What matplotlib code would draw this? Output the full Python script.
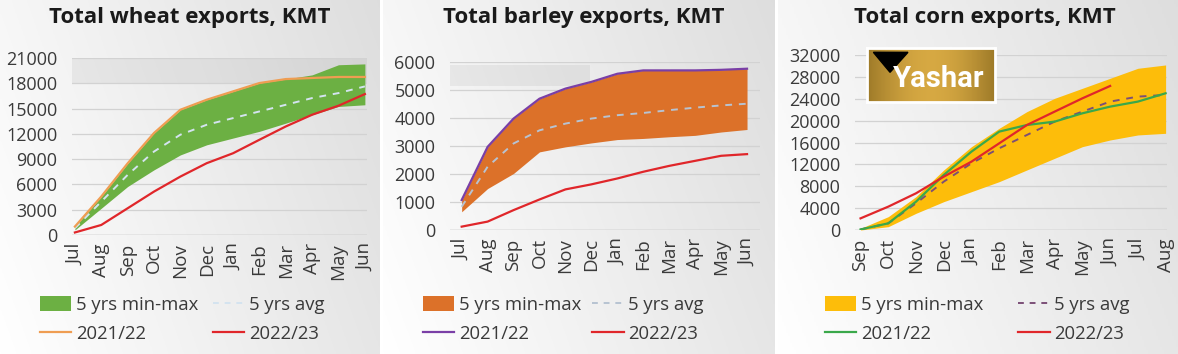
import numpy as np
import matplotlib
matplotlib.use("Agg")
import matplotlib.pyplot as plt
import matplotlib.patches as mpatches
from matplotlib.lines import Line2D

plt.rcParams['font.family'] = ['Open Sans', 'DejaVu Sans']

# ---- data (KMT, cumulative) ----
wheat_months = ["Jul", "Aug", "Sep", "Oct", "Nov", "Dec", "Jan", "Feb", "Mar", "Apr", "May", "Jun"]
wheat_min = [600, 3170, 5750, 7730, 9500, 10700, 11500, 12300, 13270, 14270, 15250, 15450]
wheat_max = [1000, 4560, 8500, 12100, 14860, 16050, 17040, 18030, 18500, 19000, 20200, 20300]
wheat_avg = [800, 3960, 7130, 9900, 11900, 13080, 13870, 14660, 15450, 16250, 16840, 17630]
wheat_2122 = [1000, 4560, 8500, 12100, 14860, 16050, 17040, 18030, 18500, 18630, 18750, 18750]
wheat_2223 = [300, 1190, 3170, 5150, 6930, 8520, 9700, 11300, 12880, 14270, 15340, 16720]
wheat_yticks = [0, 3000, 6000, 9000, 12000, 15000, 18000, 21000]

barley_months = ["Jul", "Aug", "Sep", "Oct", "Nov", "Dec", "Jan", "Feb", "Mar", "Apr", "May", "Jun"]
barley_min = [650, 1480, 2020, 2790, 2970, 3110, 3230, 3270, 3330, 3380, 3500, 3590]
barley_max = [1070, 2970, 3980, 4690, 5050, 5290, 5580, 5700, 5700, 5700, 5720, 5760]
barley_avg = [830, 2260, 3090, 3560, 3800, 3980, 4100, 4180, 4280, 4370, 4450, 4510]
barley_2122 = [1070, 2970, 3980, 4690, 5050, 5290, 5580, 5700, 5700, 5700, 5720, 5760]
barley_2223 = [120, 300, 710, 1090, 1450, 1630, 1840, 2080, 2290, 2470, 2650, 2710]
barley_yticks = [0, 1000, 2000, 3000, 4000, 5000, 6000]

corn_months = ["Sep", "Oct", "Nov", "Dec", "Jan", "Feb", "Mar", "Apr", "May", "Jun", "Jul", "Aug"]
corn_min = [0, 610, 3050, 5180, 7010, 8840, 10980, 13110, 15240, 16460, 17380, 17680]
corn_max = [300, 2440, 6100, 10980, 15240, 18600, 21650, 24080, 25910, 27740, 29570, 30180]
corn_avg = [100, 1220, 4880, 8840, 12200, 14940, 17380, 19820, 21650, 23480, 24390, 24700]
corn_2122 = [100, 1220, 5180, 10060, 14330, 17990, 19200, 19820, 21340, 22560, 23480, 25000]
corn_2223 = [2130, 4270, 6710, 9750, 12500, 15850, 19200, 21650, 24080, 26340]
corn_yticks = [0, 4000, 8000, 12000, 16000, 20000, 24000, 28000, 32000]

W, H = 1178, 354
fig = plt.figure(figsize=(W / 100, H / 100), dpi=100)
fig.patch.set_facecolor("white")


def fx(px):
    return px / W


def fy(py):
    return 1 - py / H


def panel_background(x0, x1):
    bg = fig.add_axes([fx(x0), 0, fx(x1 - x0), 1], zorder=-10)
    gx = np.linspace(0, 1, 200)
    gy = np.linspace(0, 1, 100)
    GX, GY = np.meshgrid(gx, gy)
    val = 1.0 - 0.13 * (0.75 * GX + 0.25 * (1 - GY))
    img = np.dstack([val, val, val])
    bg.imshow(img, aspect="auto", extent=[0, 1, 0, 1], origin="upper")
    bg.set_axis_off()


def draw_panel(box, xlim, months, mn, mx, avg, s2122, s2223, yticks,
               band_col, avg_col, c2122, c2223, title, title_x, leg_xy, colsp):
    left, top, right, bottom = box
    ax = fig.add_axes([fx(left), fy(bottom), fx(right - left), (bottom - top) / H])
    ax.set_facecolor("none")
    x = np.arange(len(months))
    ax.fill_between(x, mn, mx, color=band_col, lw=0, zorder=2)
    ax.plot(x, avg, color=avg_col, lw=1.4, ls=(0, (3.5, 3.5)), zorder=3)
    ax.plot(x, s2122, color=c2122, lw=1.6, zorder=4)
    ax.plot(np.arange(len(s2223)), s2223, color=c2223, lw=1.6, zorder=5)
    ax.set_xlim(*xlim)
    ax.set_ylim(yticks[0], yticks[-1])
    ax.set_yticks(yticks)
    ax.set_yticklabels([str(t) for t in yticks], fontsize=13, color="#3a3a3a")
    ax.set_xticks(x)
    ax.set_xticklabels(months, rotation=90, fontsize=13.5, color="#3a3a3a")
    ax.tick_params(axis="y", length=0, pad=10.5)
    ax.tick_params(axis="x", length=0, pad=6)
    ax.yaxis.grid(True, color="#d2d2d2", lw=0.9, zorder=0)
    for s in ax.spines.values():
        s.set_visible(False)
    ax.axhline(0, color="#bdbdbd", lw=1.0, zorder=1)
    fig.text(fx(title_x), fy(18), title, ha="center", va="center",
             fontsize=16, fontweight="bold", color="#1a1a1a")
    handles = [mpatches.Patch(color=band_col, lw=0),
               Line2D([], [], color=c2122, lw=1.6),
               Line2D([], [], color=avg_col, lw=1.4, ls=(0, (3, 3))),
               Line2D([], [], color=c2223, lw=1.6)]
    labels = ["5 yrs min-max", "2021/22", "5 yrs avg", "2022/23"]
    ax.legend(handles, labels, ncol=2, frameon=False, fontsize=13.3,
              loc="upper left", bbox_to_anchor=(fx(leg_xy[0]), fy(leg_xy[1])),
              bbox_transform=fig.transFigure, handlelength=1.7, handleheight=0.9,
              handletextpad=0.25, columnspacing=colsp, labelspacing=0.6,
              borderpad=0, borderaxespad=0, labelcolor="#3a3a3a")
    return ax


panel_background(0, 380)
panel_background(383, 775)
panel_background(778, 1178)

ax1 = draw_panel((72, 58, 367, 235), (-0.11, 11.08), wheat_months, wheat_min, wheat_max,
                 wheat_avg, wheat_2122, wheat_2223, wheat_yticks,
                 "#6cb043", "#d4e3f0", "#ef9d52", "#e0262a",
                 "Total wheat exports, KMT", 190, (40, 296), 0.8)
ax1.axhspan(18000, 21000, color="#000000", alpha=0.05, lw=0, zorder=0.5)

ax2 = draw_panel((450, 62, 760, 230), (-0.45, 11.5), barley_months, barley_min, barley_max,
                 barley_avg, barley_2122, barley_2223, barley_yticks,
                 "#dc7129", "#b7c3d2", "#7a3fa6", "#e0262a",
                 "Total barley exports, KMT", 584, (423, 296), 0.6)
ax2.axhspan(5150, 5900, xmin=0, xmax=0.45, color="#000000", alpha=0.05, lw=0, zorder=0.5)

ax3 = draw_panel((855, 55, 1167, 230), (-0.2, 11.05), corn_months, corn_min, corn_max,
                 corn_avg, corn_2122, corn_2223, corn_yticks,
                 "#fdbd0a", "#7b4f77", "#3aa84a", "#e0262a",
                 "Total corn exports, KMT", 985, (825, 296), 1.9)

# logo
logo = fig.add_axes([fx(867), fy(102), fx(128), 54 / H], zorder=10)
lg = np.linspace(0, 1, 100)
gold = np.array([[0.62 + 0.22 * v, 0.48 + 0.18 * v, 0.16 + 0.10 * v] for v in np.sin(lg * np.pi)])
logo.imshow(gold[np.newaxis, :, :], aspect="auto", extent=[0, 1, 0, 1])
logo.add_patch(mpatches.Polygon([[0.05, 0.92], [0.32, 0.92], [0.18, 0.55]], color="black"))
logo.text(0.56, 0.42, "Yashar", color="white", fontsize=21, fontweight="bold",
          ha="center", va="center", family="Roboto")
logo.set_xlim(0, 1)
logo.set_ylim(0, 1)
logo.set_xticks([])
logo.set_yticks([])
for s in logo.spines.values():
    s.set_color("white")
    s.set_linewidth(2)

plt.savefig("out.png", dpi=100)
